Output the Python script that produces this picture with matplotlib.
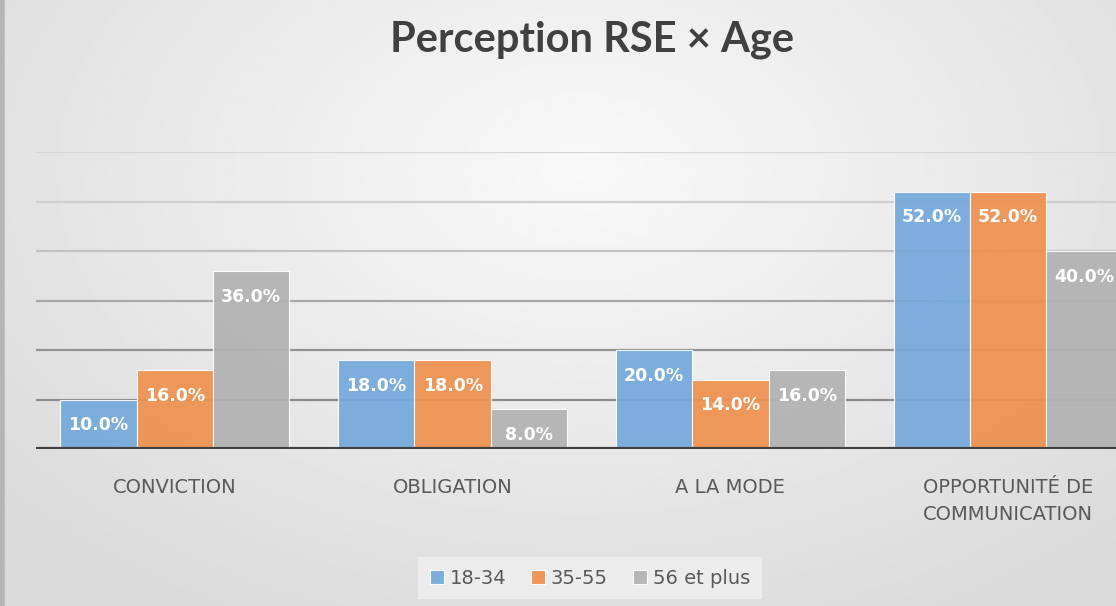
import numpy as np
import matplotlib.pyplot as plt

categories = ['CONVICTION', 'OBLIGATION', 'A LA MODE', 'OPPORTUNITÉ DE\nCOMMUNICATION']
series_names = ['18-34', '35-55', '56 et plus']
age_18_34 = [10.0, 18.0, 20.0, 52.0]
age_35_55 = [16.0, 18.0, 14.0, 52.0]
age_56_plus = [36.0, 8.0, 16.0, 40.0]
series = [age_18_34, age_35_55, age_56_plus]
colors = ['#74a9db', '#ee9150', '#b2b2b2']

fig = plt.figure(figsize=(11.16, 6.06), dpi=100)

# background gradient (light in the middle, greyer at the edges)
bg = fig.add_axes([0, 0, 1, 1])
yy, xx = np.mgrid[0:1:300j, 0:1:550j]
r = np.sqrt(((xx - 0.52) / 0.7) ** 2 + ((yy - 0.28) / 0.85) ** 2)
shade = 0.975 - 0.12 * np.clip(r, 0, 1)
bg.imshow(shade, cmap='gray', vmin=0, vmax=1, aspect='auto', extent=[0, 1, 0, 1])
bg.axvline(0.002, color='#b5b5b5', lw=4)
bg.set_xlim(0, 1)
bg.set_ylim(0, 1)
bg.axis('off')

# plot area runs past the right edge, like the cropped original
ax = fig.add_axes([36 / 1116, 157 / 606, 1111 / 1116, 297 / 606])
ax.set_facecolor('none')
x = np.arange(len(categories))
w = 0.275

grid_cols = ['#8c8c8c', '#939393', '#a8a8a8', '#c2c2c2', '#cfcfcf', '#d6d6d6']
for g, c in zip(range(10, 70, 10), grid_cols):
    ax.axhline(g, color=c, lw=1.6, zorder=1)

for i, vals in enumerate(series):
    xs = x + (i - 1) * w
    ax.bar(xs, vals, w, color=colors[i], edgecolor='white', linewidth=0.8,
           alpha=0.93, zorder=2, label=series_names[i])
    for xp, v in zip(xs, vals):
        ax.text(xp, v - 5.2, '{:.1f}%'.format(v), ha='center', va='center',
                color='white', fontweight='bold', fontsize=12.5, zorder=4)

ax.axhline(0, color='#404040', lw=3, zorder=3)
ax.set_xlim(-0.5, 3.5)
ax.set_ylim(0, 60)
ax.set_yticks([])
ax.set_xticks(x)
ax.set_xticklabels(categories, fontsize=14, color='#595959', linespacing=1.55)
ax.tick_params(axis='x', length=0, pad=21)
for s in ax.spines.values():
    s.set_visible(False)

fig.text(592 / 1116, 1 - 40 / 606, 'Perception RSE × Age', ha='center', va='center',
         fontsize=30, fontweight='bold', color='#404040', family=['Lato', 'DejaVu Sans'])

leg = fig.legend(loc='center', bbox_to_anchor=(590 / 1116, 1 - 578 / 606), ncol=3,
                 frameon=True, facecolor='#ececec', edgecolor='none', framealpha=1,
                 handlelength=0.7, handleheight=0.7, columnspacing=1.3,
                 handletextpad=0.3, borderpad=0.6, fancybox=False,
                 prop={'size': 14})
for t in leg.get_texts():
    t.set_color('#595959')

fig.savefig('out.png', dpi=100)
